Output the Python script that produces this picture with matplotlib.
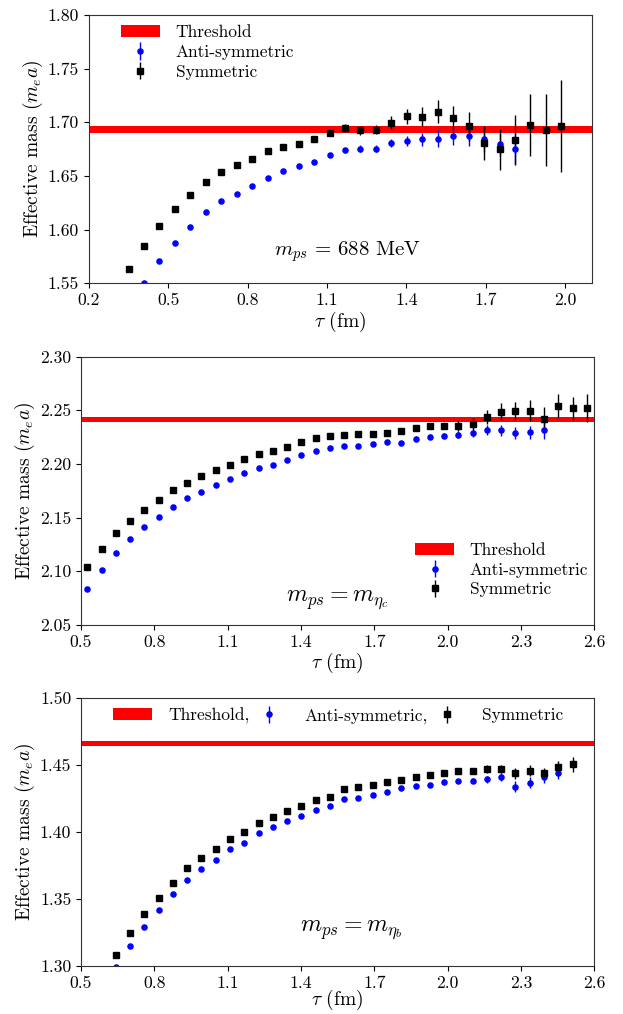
import matplotlib
matplotlib.use('Agg')
import matplotlib.pyplot as plt
from matplotlib.ticker import FormatStrFormatter

plt.rcParams['font.family'] = ['cmr10', 'DejaVu Sans']
plt.rcParams['mathtext.fontset'] = 'cm'
plt.rcParams['axes.formatter.use_mathtext'] = True

# ---------------- data ----------------
# Panel 1: m_ps = 688 MeV
tau_688 = [0.3504, 0.4088, 0.4672, 0.5256, 0.5840, 0.6424, 0.7008, 0.7592, 0.8176, 0.8760,
           0.9344, 0.9928, 1.0512, 1.1096, 1.1680, 1.2264, 1.2848, 1.3432, 1.4016, 1.4600,
           1.5184, 1.5768, 1.6352, 1.6936, 1.7520, 1.8104, 1.8688, 1.9272, 1.9856]
sym_688 = [1.5634, 1.5845, 1.6032, 1.6188, 1.6325, 1.6446, 1.6535, 1.6601, 1.6660, 1.6729,
           1.6769, 1.6800, 1.6840, 1.6899, 1.6943, 1.6924, 1.6931, 1.6996, 1.7055, 1.7052,
           1.7099, 1.7036, 1.6962, 1.6806, 1.6747, 1.6834, 1.6978, 1.6927, 1.6965]
sym_688_err = [0.0005, 0.0005, 0.0006, 0.0007, 0.0008, 0.0009, 0.0010, 0.0011, 0.0013, 0.0015,
               0.0018, 0.0020, 0.0025, 0.0030, 0.0037, 0.0040, 0.0040, 0.0060, 0.0068, 0.0087,
               0.0106, 0.0112, 0.0137, 0.0159, 0.0193, 0.0236, 0.0290, 0.0334, 0.0426]
tau_688_anti = tau_688[1:26]
anti_688 = [1.5500, 1.5705, 1.5877, 1.6026, 1.6162, 1.6265, 1.6334, 1.6405, 1.6483, 1.6545,
            1.6591, 1.6632, 1.6694, 1.6738, 1.6756, 1.6756, 1.6803, 1.6828, 1.6843, 1.6846,
            1.6871, 1.6868, 1.6846, 1.6794, 1.6756]
anti_688_err = [0.0004, 0.0004, 0.0005, 0.0005, 0.0006, 0.0007, 0.0008, 0.0009, 0.0010, 0.0012,
                0.0014, 0.0017, 0.0020, 0.0025, 0.0030, 0.0030, 0.0037, 0.0045, 0.0060, 0.0078,
                0.0078, 0.0090, 0.0120, 0.0110, 0.0140]
thr_688, thr_688_err = 1.6931, 0.0031

# Panel 2: m_ps = m_eta_c
tau_etac = [0.5256, 0.5840, 0.6424, 0.7008, 0.7592, 0.8176, 0.8760, 0.9344, 0.9928, 1.0512,
            1.1096, 1.1680, 1.2264, 1.2848, 1.3432, 1.4016, 1.4600, 1.5184, 1.5768, 1.6352,
            1.6936, 1.7520, 1.8104, 1.8688, 1.9272, 1.9856, 2.0440, 2.1024, 2.1608, 2.2192,
            2.2776, 2.3360, 2.3944, 2.4528, 2.5112, 2.5696]
sym_etac = [2.1034, 2.1205, 2.1351, 2.1472, 2.1572, 2.1665, 2.1752, 2.1826, 2.1886, 2.1942,
            2.1991, 2.2044, 2.2091, 2.2119, 2.2156, 2.2208, 2.2243, 2.2259, 2.2271, 2.2277,
            2.2280, 2.2289, 2.2305, 2.2336, 2.2355, 2.2355, 2.2355, 2.2376, 2.2438, 2.2488,
            2.2497, 2.2494, 2.2423, 2.2541, 2.2520, 2.2523]
sym_etac_err = [0.0005, 0.0005, 0.0005, 0.0005, 0.0006, 0.0006, 0.0006, 0.0007, 0.0007, 0.0007,
                0.0008, 0.0008, 0.0008, 0.0009, 0.0009, 0.0009, 0.0010, 0.0010, 0.0010, 0.0012,
                0.0013, 0.0015, 0.0018, 0.0020, 0.0030, 0.0030, 0.0050, 0.0056, 0.0065, 0.0078,
                0.0085, 0.0098, 0.0106, 0.0113, 0.0106, 0.0132]
tau_etac_anti = tau_etac[:33]
anti_etac = [2.0833, 2.1013, 2.1171, 2.1301, 2.1407, 2.1504, 2.1600, 2.1681, 2.1742, 2.1802,
             2.1858, 2.1914, 2.1963, 2.1991, 2.2038, 2.2084, 2.2122, 2.2147, 2.2165, 2.2168,
             2.2187, 2.2208, 2.2199, 2.2236, 2.2255, 2.2264, 2.2274, 2.2287, 2.2317, 2.2314,
             2.2287, 2.2296, 2.2314]
anti_etac_err = [0.0004, 0.0004, 0.0004, 0.0005, 0.0005, 0.0005, 0.0006, 0.0006, 0.0006, 0.0007,
                 0.0007, 0.0007, 0.0008, 0.0008, 0.0008, 0.0009, 0.0009, 0.0010, 0.0010, 0.0012,
                 0.0014, 0.0016, 0.0018, 0.0020, 0.0022, 0.0025, 0.0030, 0.0040, 0.0045, 0.0050,
                 0.0055, 0.0060, 0.0078]
thr_etac, thr_etac_err = 2.2417, 0.0022

# Panel 3: m_ps = m_eta_b
tau_etab = [0.6424, 0.7008, 0.7592, 0.8176, 0.8760, 0.9344, 0.9928, 1.0512, 1.1096, 1.1680,
            1.2264, 1.2848, 1.3432, 1.4016, 1.4600, 1.5184, 1.5768, 1.6352, 1.6936, 1.7520,
            1.8104, 1.8688, 1.9272, 1.9856, 2.0440, 2.1024, 2.1608, 2.2192, 2.2776, 2.3360,
            2.3944, 2.4528, 2.5112]
sym_etab = [1.3085, 1.3247, 1.3387, 1.3509, 1.3623, 1.3728, 1.3803, 1.3873, 1.3945, 1.3997,
            1.4070, 1.4112, 1.4155, 1.4197, 1.4237, 1.4264, 1.4319, 1.4334, 1.4349, 1.4372,
            1.4387, 1.4414, 1.4427, 1.4442, 1.4457, 1.4457, 1.4472, 1.4470, 1.4437, 1.4457,
            1.4437, 1.4487, 1.4504]
sym_etab_err = [0.0005, 0.0005, 0.0005, 0.0005, 0.0005, 0.0006, 0.0006, 0.0006, 0.0006, 0.0007,
                0.0007, 0.0007, 0.0008, 0.0008, 0.0008, 0.0009, 0.0009, 0.0010, 0.0010, 0.0011,
                0.0011, 0.0012, 0.0013, 0.0014, 0.0015, 0.0020, 0.0030, 0.0030, 0.0040, 0.0040,
                0.0040, 0.0040, 0.0056]
tau_etab_anti = tau_etab[:32]
anti_etab = [1.2995, 1.3150, 1.3292, 1.3419, 1.3536, 1.3643, 1.3721, 1.3793, 1.3870, 1.3920,
             1.3990, 1.4040, 1.4080, 1.4120, 1.4165, 1.4192, 1.4247, 1.4257, 1.4279, 1.4297,
             1.4327, 1.4342, 1.4352, 1.4374, 1.4382, 1.4384, 1.4394, 1.4414, 1.4339, 1.4369,
             1.4409, 1.4442]
anti_etab_err = [0.0004, 0.0004, 0.0004, 0.0005, 0.0005, 0.0005, 0.0005, 0.0006, 0.0006, 0.0006,
                 0.0007, 0.0007, 0.0007, 0.0008, 0.0008, 0.0008, 0.0009, 0.0009, 0.0010, 0.0010,
                 0.0011, 0.0012, 0.0013, 0.0014, 0.0015, 0.0020, 0.0025, 0.0030, 0.0040, 0.0040,
                 0.0040, 0.0050]
thr_etab, thr_etab_err = 1.4659, 0.0018

# ---------------- figure ----------------
W, H = 623, 1014
fig = plt.figure(figsize=(W / 100, H / 100), dpi=100)

def px_axes(left, right, top, bottom):
    return fig.add_axes([left / W, 1 - bottom / H, (right - left) / W, (bottom - top) / H])

ax1 = px_axes(88.7, 591.7, 15.0, 283.3)
ax2 = px_axes(81.0, 594.3, 356.7, 624.7)
ax3 = px_axes(81.0, 594.3, 698.0, 966.0)

TICK_FS = 12.7
LAB_FS = 14
LEG_FS = 12.5
MS = 3.7

def draw(ax, thr, thr_err, ta, anti, anti_err, ts, sym, sym_err, xlim, ylim, xticks, yticks,
         ann_label, ann_xy, ann_fs, xpad):
    ax.axhspan(thr - thr_err, thr + thr_err, color='red', lw=0, label='Threshold')
    ax.errorbar(ta, anti, yerr=anti_err, fmt='o', color='blue', ms=MS, elinewidth=1.0,
                capsize=0, label='Anti-symmetric')
    ax.errorbar(ts, sym, yerr=sym_err, fmt='s', color='black', ms=MS, elinewidth=1.0,
                capsize=0, label='Symmetric')
    ax.set_xlim(*xlim)
    ax.set_ylim(*ylim)
    ax.set_xticks(xticks)
    ax.set_yticks(yticks)
    ax.xaxis.set_major_formatter(FormatStrFormatter('%.1f'))
    ax.yaxis.set_major_formatter(FormatStrFormatter('%.2f'))
    ax.tick_params(labelsize=TICK_FS, length=3.5, width=0.8)
    ax.set_xlabel(r'$\tau$ (fm)', fontsize=LAB_FS, labelpad=xpad)
    ax.set_ylabel(r'Effective mass $(m_e a)$', fontsize=LAB_FS, labelpad=2)
    ax.text(ann_xy[0], ann_xy[1], ann_label, transform=ax.transAxes, fontsize=ann_fs,
            ha='left', va='baseline')
    for s in ax.spines.values():
        s.set_color('#333333')

draw(ax1, thr_688, thr_688_err, tau_688_anti, anti_688, anti_688_err,
     tau_688, sym_688, sym_688_err, (0.2, 2.1), (1.55, 1.80),
     [0.2, 0.5, 0.8, 1.1, 1.4, 1.7, 2.0], [1.55, 1.60, 1.65, 1.70, 1.75, 1.80],
     r'$m_{ps}\,=\,688$ MeV', (0.368, 0.1055), 15, 1)
draw(ax2, thr_etac, thr_etac_err, tau_etac_anti, anti_etac, anti_etac_err,
     tau_etac, sym_etac, sym_etac_err, (0.5, 2.6), (2.05, 2.30),
     [0.5, 0.8, 1.1, 1.4, 1.7, 2.0, 2.3, 2.6], [2.05, 2.10, 2.15, 2.20, 2.25, 2.30],
     r'$m_{ps}=m_{\eta_c}$', (0.399, 0.086), 17.3, 1)
draw(ax3, thr_etab, thr_etab_err, tau_etab_anti, anti_etab, anti_etab_err,
     tau_etab, sym_etab, sym_etab_err, (0.5, 2.6), (1.30, 1.50),
     [0.5, 0.8, 1.1, 1.4, 1.7, 2.0, 2.3, 2.6], [1.30, 1.35, 1.40, 1.45, 1.50],
     r'$m_{ps}=m_{\eta_b}$', (0.4267, 0.128), 17.3, -2)

leg_kw = dict(frameon=False, fontsize=LEG_FS, handlelength=2.25, handletextpad=0.9,
              labelspacing=0.25, borderpad=0, borderaxespad=0)
ax1.legend(loc='center left', bbox_to_anchor=(0.064, 0.861), **leg_kw)
ax2.legend(loc='center left', bbox_to_anchor=(0.6507, 0.204), **leg_kw)
h, l = ax3.get_legend_handles_labels()
ax3.legend(h, ['Threshold,', 'Anti-symmetric,', 'Symmetric'], loc='center left',
           bbox_to_anchor=(0.063, 0.934), ncol=3, columnspacing=0.0, **leg_kw)

fig.savefig('out.png', dpi=100)
